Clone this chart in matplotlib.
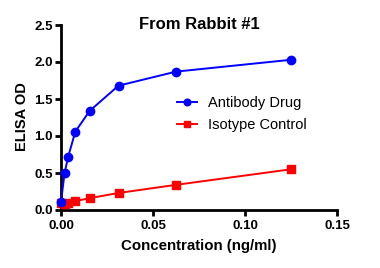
import matplotlib
matplotlib.use('Agg')
import matplotlib.pyplot as plt

plt.rcParams['font.family'] = ['Liberation Sans', 'DejaVu Sans']

# dilution series (ng/ml)
conc = [0.0, 0.00195, 0.0039, 0.0078, 0.0156, 0.03125, 0.0625, 0.125]
antibody_od = [0.11, 0.50, 0.72, 1.06, 1.34, 1.68, 1.87, 2.03]
isotype_od = [0.09, 0.08, 0.10, 0.12, 0.16, 0.23, 0.34, 0.55]

xticks = [0.00, 0.05, 0.10, 0.15]
yticks = [0.0, 0.5, 1.0, 1.5, 2.0, 2.5]

fig = plt.figure(figsize=(3.8, 2.68), dpi=100)
ax = fig.add_axes([61 / 380, (268 - 210) / 268, (337 - 61) / 380, (210 - 25) / 268])

ax.plot(conc, isotype_od, color='#ff0000', marker='s', markersize=5.5, linewidth=1.4,
        label='Isotype Control', clip_on=False, zorder=3)
ax.plot(conc, antibody_od, color='#0000ff', marker='o', markersize=6, linewidth=1.4,
        label='Antibody Drug', clip_on=False, zorder=4)

ax.set_xlim(0, 0.15)
ax.set_ylim(0, 2.5)
ax.set_xticks(xticks)
ax.set_xticklabels([f'{t:.2f}' for t in xticks])
ax.set_yticks(yticks)
ax.set_yticklabels([f'{t:.1f}' for t in yticks])

for side in ['top', 'right']:
    ax.spines[side].set_visible(False)
for side in ['left', 'bottom']:
    ax.spines[side].set_linewidth(2)
ax.tick_params(axis='both', direction='out', length=4, width=2, labelsize=9.5)
ax.tick_params(axis='x', pad=3.5)
ax.tick_params(axis='y', pad=2)
for lab in ax.get_xticklabels() + ax.get_yticklabels():
    lab.set_fontweight('bold')

ax.set_title('From Rabbit #1', fontsize=12, fontweight='bold', y=0.978, pad=0)
ax.set_xlabel('Concentration (ng/ml)', fontsize=10.8, fontweight='bold')
ax.xaxis.set_label_coords(0.5, -0.195)
ax.xaxis.label.set_va('center')
ax.set_ylabel('ELISA OD', fontsize=10.5, fontweight='bold')
ax.yaxis.set_label_coords(-0.141, 0.505)
ax.yaxis.label.set_va('center')

handles, labels = ax.get_legend_handles_labels()
ax.legend(handles[::-1], labels[::-1], loc='center left', bbox_to_anchor=(0.42, 0.519),
          frameon=False, fontsize=10.5, handlelength=1.37, labelspacing=0.5,
          handletextpad=0.75, borderpad=0, borderaxespad=0, markerscale=0.8)

fig.savefig('out.png', dpi=100)
